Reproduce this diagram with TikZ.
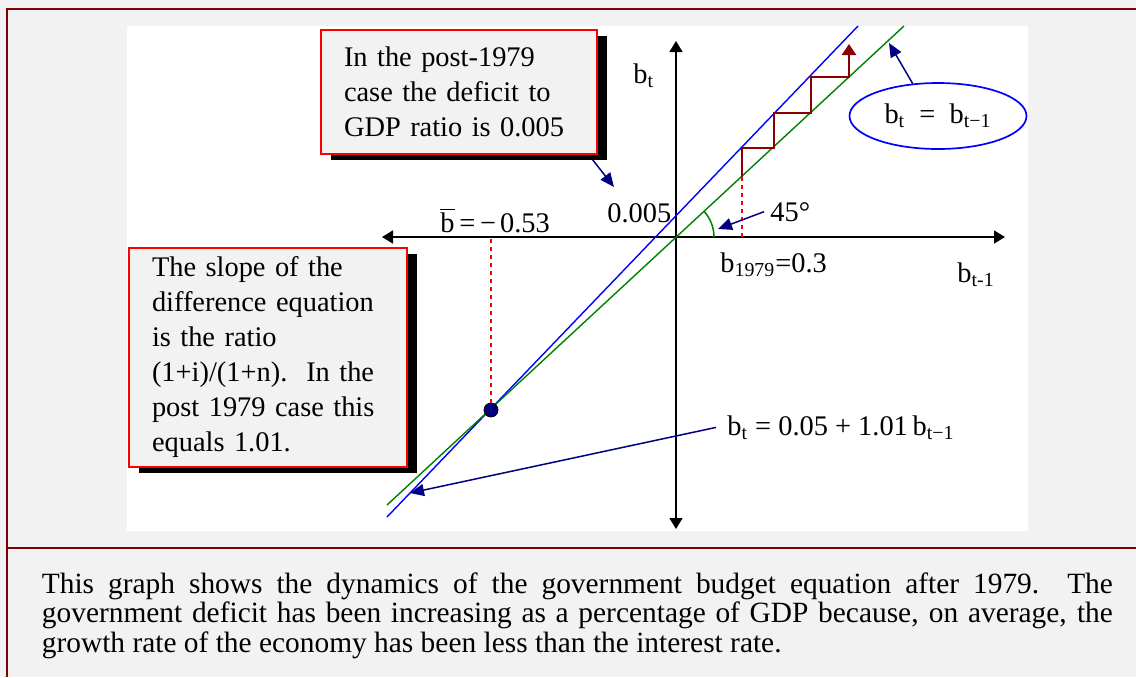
\documentclass[tikz,border=0pt]{standalone}
\usepackage{fontspec}
\setmainfont{Liberation Serif}
\usetikzlibrary{positioning,arrows.meta,shapes.geometric,shadows}

\definecolor{pagegray}{HTML}{F2F2F2}
\definecolor{framered}{HTML}{800000}
\definecolor{stairred}{HTML}{8B0000}
\definecolor{arrownavy}{HTML}{000080}
\definecolor{lineblue}{HTML}{0000FF}
\definecolor{linegreen}{HTML}{008000}

\newcommand{\lowsub}[1]{\textsubscript{#1}}

\tikzset{
  frame/.style={draw=framered, line width=1pt},
  axis/.style={line width=0.75pt, {Triangle[length=5.5pt,width=6.5pt]}-{Triangle[length=5.5pt,width=6.5pt]}},
  notebox/.style={draw=red, line width=1pt, fill=pagegray, align=left,
    anchor=north west, inner xsep=11.5pt,
    general shadow={fill=black, shadow xshift=5pt, shadow yshift=-3pt}},
  lbl/.style={anchor=base west, inner sep=0pt},
  pointer/.style={draw=arrownavy, line width=0.75pt, -{Triangle[length=7pt,width=6pt]}},
  guide/.style={draw=red, line width=0.6pt, dash pattern=on 2pt off 2pt},
  stair/.style={draw=stairred, line width=1.3pt, -{Triangle[length=5.5pt,width=7pt]}},
  dot/.style={circle, draw=black, fill=arrownavy, minimum size=7pt, inner sep=0pt}
}

\begin{document}
\begin{tikzpicture}[x=0.5pt, y=-0.5pt, font=\fontsize{14.2}{17.5}\selectfont]
  % page, panel and frame
  \fill[pagegray] (0,0) rectangle (1136,677);
  \useasboundingbox (0,0) rectangle (1136,677);
  \fill[white] (127,26) rectangle (1028,531);
  \draw[frame] (7,677) -- (7,9) -- (1136,9);
  \draw[frame] (7,548) -- (1136,548);

  % axes
  \coordinate (O) at (676,237);
  \coordinate (xL) at (382,237);
  \coordinate (xR) at (1005,237);
  \coordinate (yT) at (676,41);
  \coordinate (yB) at (676,529);
  \draw[axis] (xL) -- (xR);
  \draw[axis] (yB) -- (yT);

  % difference equation and 45 degree line
  \coordinate (blueA) at (387,517);
  \coordinate (blueB) at (858,26);
  \coordinate (greenA) at (387,505);
  \coordinate (greenB) at (904,26);
  \draw[lineblue, line width=0.7pt] (blueA) -- (blueB);
  \draw[linegreen, line width=0.7pt] (greenA) -- (greenB);
  \draw[linegreen, line width=0.75pt] (714,237) arc[start angle=0, end angle=-43, radius=38];

  % steady state
  \node[dot] (ss) at (491,410) {};
  \draw[guide] (ss) -- (ss |- O);

  % path from 1979
  \coordinate (b0) at (742,177);
  \coordinate (s1) at (774,148);
  \coordinate (s2) at (811,113);
  \coordinate (s3) at (849,77);
  \coordinate (s4) at (849,44);
  \draw[guide] (b0 |- O) -- (b0);
  \draw[stair] (b0) |- (s1) |- (s2) |- (s3) -- (s4);

  % labels
  \node[lbl] (lbt) at (633,83) {b\lowsub{t}};
  \node[lbl] (lzero) at (607,222) {0.005};
  \node[lbl] (lang) at (770,221) {45°};
  \node[lbl] (lb79) at (720,272) {b\lowsub{1979}=0.3};
  \node[lbl] (lbbar) at (440,232) {\ensuremath{\overline{\mbox{b}}}\,=\,−\hspace{2pt}0.53};
  \node[lbl] (lbt1) at (957,282) {b\lowsub{t-1}};
  \node[lbl] (leq) at (727,435) {b\lowsub{t}\ = 0.05 + 1.01\,b\lowsub{t−1}};
  \node[ellipse, draw=lineblue, fill=white, line width=0.85pt,
    minimum width=88.5pt, minimum height=33pt] (lid) at (938,116)
    {b\lowsub{t}\enspace=\enspace b\lowsub{t−1}};

  % pointers
  \coordinate (zerotip) at (614,187);
  \coordinate (angtip) at (718,229);
  \coordinate (idtip) at (889,43);
  \coordinate (eqtip) at (410,493);
  \draw[pointer] (585,150) -- (zerotip);
  \draw[pointer] ([xshift=-3pt]lang.west) -- (angtip);
  \draw[pointer] (lid.128) -- (idtip);
  \draw[pointer] ([xshift=-5.5pt]leq.west) -- (eqtip);

  % notes
  \node[notebox, text width=115pt, minimum height=62pt] (note1) at (320,29)
    {In the post-1979\\case the deficit to\\GDP ratio is 0.005};
  \node[notebox, text width=116pt, minimum height=109.5pt] (note2) at (128,247)
    {The slope of the\\difference equation\\is the ratio\\(1+i)/(1+n).\ \ In the\\post 1979 case this\\equals 1.01.};

  % caption
  \node[lbl, text width=535.5pt, align=justify, font=\fontsize{14.7}{14.9}\selectfont] (caption) at (41.5,593)
    {This graph shows the dynamics of the government budget equation after 1979.\ \ The\linebreak
     government deficit has been increasing as a percentage of GDP because, on average, the\linebreak
     growth rate of the economy has been less than the interest rate.};
\end{tikzpicture}
\end{document}
